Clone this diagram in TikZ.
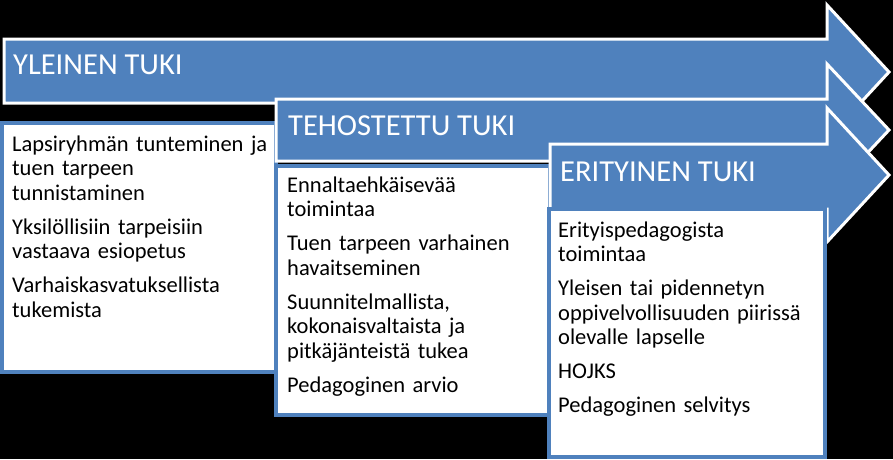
\documentclass[tikz,border=0pt]{standalone}
\usepackage{fontspec}
\setmainfont{Carlito}
\definecolor{accblue}{HTML}{4F81BD}
\tikzset{
  arrowshape/.style={fill=accblue, draw=white, line width=3pt, line join=miter},
  boxshape/.style={fill=white, draw=accblue, line width=3.5pt},
  headtext/.style={anchor=base west, inner sep=0pt, text=white, font=\fontsize{30.5}{36}\selectfont},
  bodytext/.style={anchor=base west, inner sep=0pt, align=left, text width=300pt, font=\fontsize{22.5}{24.5}\selectfont},
}
\begin{document}
\begin{tikzpicture}[x=1pt,y=-1pt]
\fill[black] (0,0) rectangle (893,459);
\useasboundingbox (0,0) rectangle (893,459);

% arrow 1
\draw[arrowshape] (4,39) -- (827,39) -- (827,5) -- (889,72) -- (827,139) -- (827,103) -- (4,103) -- cycle;
\node[headtext] (h1) at (13,74) {YLEINEN TUKI};
% box 1
\draw[boxshape] (2,123) rectangle (276,372);
\node[bodytext] (t1) at (12,151) {Lapsiryhmän tunteminen ja\\tuen tarpeen\\tunnistaminen\\[9.5pt]Yksilöllisiin tarpeisiin\\vastaava esiopetus\\[9.5pt]Varhaiskasvatuksellista\\tukemista};

% arrow 2
\draw[arrowshape] (276,99) -- (827,99) -- (827,64) -- (889,130) -- (827,196) -- (827,161) -- (276,161) -- cycle;
\node[headtext] (h2) at (288,135) {TEHOSTETTU TUKI};
% box 2
\draw[boxshape] (276,166) rectangle (550,415);
\node[bodytext] (t2) at (287,192) {Ennaltaehkäisevää\\toimintaa\\[9.5pt]Tuen tarpeen varhainen\\havaitseminen\\[9.5pt]Suunnitelmallista,\\kokonaisvaltaista ja\\pitkäjänteistä tukea\\[9.5pt]Pedagoginen arvio};

% arrow 3
\draw[arrowshape] (550,144) -- (827,144) -- (827,108) -- (889,175) -- (827,242) -- (827,209) -- (550,209) -- cycle;
\node[headtext] (h3) at (560,181) {ERITYINEN TUKI};
% box 3
\draw[boxshape] (549,209) rectangle (825,457);
\node[bodytext] (t3) at (558,237) {Erityispedagogista\\toimintaa\\[9.5pt]Yleisen tai pidennetyn\\oppivelvollisuuden piirissä\\olevalle lapselle\\[9.5pt]HOJKS\\[9.5pt]Pedagoginen selvitys};
\end{tikzpicture}
\end{document}
